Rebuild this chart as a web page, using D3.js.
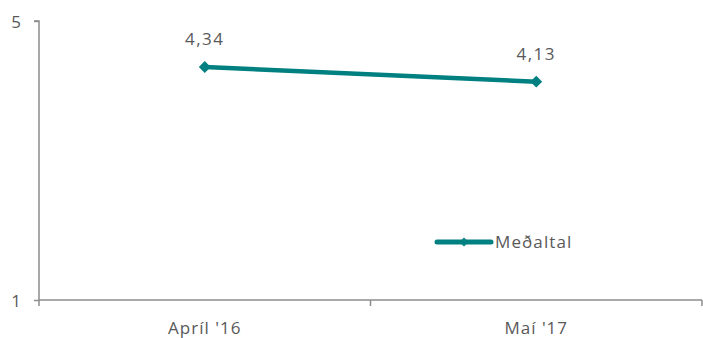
<!DOCTYPE html>
<html><head><meta charset="utf-8">
<script src="https://cdn.jsdelivr.net/npm/d3@7"></script>
<style>body{margin:0;background:#fff}svg{display:block}text{font-family:"Open Sans","Liberation Sans",sans-serif;fill:#595959}</style>
</head><body><svg id="c" width="703" height="338"></svg>
<script>
const categories = ["Apríl '16", "Maí '17"];
const values = [4.34, 4.13];
const labels = ["4,34", "4,13"];
const yTicks = [1, 5];
const seriesName = "Meðaltal";
const color = "#008080";
const axisColor = "#8c8c8c";

const svg = d3.select("#c");
const m = {l: 39, r: 702, t: 21, b: 300};
const x = d3.scaleBand().domain(categories).range([m.l, m.r]);
const y = d3.scaleLinear().domain([1, 5]).range([m.b, m.t]);

// y axis
const ya = svg.append("g").attr("transform", `translate(${m.l},0)`)
  .call(d3.axisLeft(y).tickValues(yTicks).tickFormat(d3.format("d")).tickSize(5));
ya.select(".domain").attr("stroke", axisColor).attr("stroke-width", 1.5).attr("d", `M-5,${m.t}H0V${m.b}`);
ya.selectAll(".tick line").attr("stroke", axisColor).attr("stroke-width", 1.5);
ya.selectAll(".tick text").style("font-size", "17px").attr("fill", "#595959").attr("x", -18).attr("dy", "0.36em");

// x axis
const xa = svg.append("g").attr("transform", `translate(0,${m.b})`);
xa.append("line").attr("x1", m.l).attr("x2", m.r).attr("stroke", axisColor).attr("stroke-width", 1.5);
const bounds = [m.l, ...categories.map(c => x(c) + x.bandwidth())];
xa.selectAll(".xt").data(bounds).join("line")
  .attr("x1", d => d).attr("x2", d => d).attr("y1", 0).attr("y2", 6)
  .attr("stroke", axisColor).attr("stroke-width", 1.5);
xa.selectAll(".xl").data(categories).join("text")
  .attr("x", d => x(d) + x.bandwidth() / 2).attr("y", 34)
  .attr("text-anchor", "middle").style("font-size", "17px").style("letter-spacing", "1px").text(d => d);

// line
const cx = c => x(c) + x.bandwidth() / 2;
const pts = categories.map((c, i) => [cx(c), y(values[i])]);
svg.append("path").attr("d", d3.line()(pts)).attr("fill", "none")
  .attr("stroke", color).attr("stroke-width", 4.5).attr("stroke-linecap", "round");
const diamond = d3.symbol().type(d3.symbolDiamond2).size(90);
svg.selectAll(".pt").data(pts).join("path")
  .attr("transform", d => `translate(${d[0]},${d[1]})`)
  .attr("d", diamond).attr("fill", color);
svg.selectAll(".lb").data(pts).join("text")
  .attr("x", d => d[0]).attr("y", d => d[1] - 22)
  .attr("text-anchor", "middle").style("font-size", "17px").style("letter-spacing", "1.5px")
  .text((d, i) => labels[i]);

// legend
const lg = svg.append("g").attr("transform", "translate(435,242)");
lg.append("line").attr("x1", 2).attr("x2", 56).attr("stroke", color).attr("stroke-width", 5).attr("stroke-linecap", "round");
lg.append("path").attr("transform", "translate(29,0)").attr("d", d3.symbol().type(d3.symbolDiamond2).size(50)).attr("fill", color);
lg.append("text").attr("x", 60).attr("y", 6).style("font-size", "17px").style("letter-spacing", "1.1px").text(seriesName);
</script></body></html>
